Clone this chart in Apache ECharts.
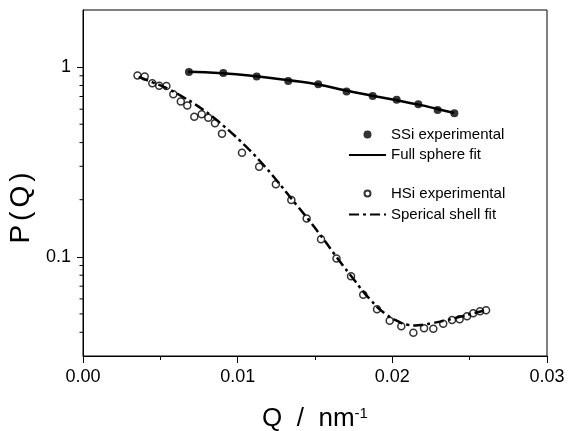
<!DOCTYPE html>
<html>
<head>
<meta charset="utf-8">
<script src="https://cdn.jsdelivr.net/npm/echarts@6/dist/echarts.min.js"></script>
<style>
  html, body { margin: 0; padding: 0; background: #fff; }
  #chart { width: 569px; height: 431px; }
</style>
</head>
<body>
<div id="chart"></div>
<script>
// SSi solid spheres: measured points and full sphere fit
const ssiQ = [0.00685, 0.00907, 0.01123, 0.01327, 0.01521, 0.01704, 0.01873, 0.02028, 0.02168, 0.02293, 0.02401]
const ssiP = [0.941, 0.930, 0.892, 0.846, 0.813, 0.743, 0.705, 0.672, 0.638, 0.595, 0.571]
const ssiFitQ = [0.0068, 0.0090, 0.0112, 0.0133, 0.0152, 0.0170, 0.0187, 0.0203, 0.0217, 0.0229, 0.0240]
const ssiFitP = [0.945, 0.928, 0.894, 0.852, 0.810, 0.752, 0.707, 0.668, 0.634, 0.602, 0.573]

// HSi hollow spheres: measured points and spherical shell fit
const hsiQ = [0.003524, 0.003989, 0.004481, 0.004927, 0.005392, 0.005838, 0.006323, 0.006743, 0.007196,
  0.007674, 0.008101, 0.008534, 0.008987, 0.01028, 0.01139, 0.01247, 0.01347, 0.01446, 0.01539, 0.01639,
  0.01733, 0.01812, 0.01901, 0.01983, 0.02058, 0.02136, 0.02205, 0.02265, 0.02329, 0.02386, 0.02435,
  0.02483, 0.02523, 0.02567, 0.02606]
const hsiP = [0.903, 0.892, 0.823, 0.798, 0.794, 0.720, 0.658, 0.627, 0.548,
  0.564, 0.541, 0.506, 0.446, 0.354, 0.298, 0.241, 0.1995, 0.1593, 0.1239, 0.0979,
  0.0790, 0.0631, 0.0529, 0.0460, 0.0430, 0.0398, 0.0420, 0.0418, 0.0444, 0.0464, 0.0469,
  0.0486, 0.0504, 0.0516, 0.0522]
const hsiFitQ = [0.0036, 0.0045, 0.0055, 0.0065, 0.0075, 0.0085, 0.0095, 0.0105, 0.0115, 0.0125, 0.0135,
  0.0145, 0.0155, 0.0165, 0.0175, 0.0185, 0.0195, 0.0205, 0.0210, 0.0215, 0.0220, 0.0225, 0.0235,
  0.0245, 0.0255, 0.0259]
const hsiFitP = [0.889, 0.831, 0.768, 0.693, 0.617, 0.537, 0.458, 0.384, 0.316, 0.254, 0.2014,
  0.160, 0.1254, 0.0971, 0.0761, 0.0604, 0.0504, 0.0451, 0.0438, 0.0435, 0.0439, 0.0446, 0.0463,
  0.0486, 0.0510, 0.0519]

// axis ticks
const xMin = 0
const yMajorTicks = [0.1, 1]
const yMinorTicks = [0.04, 0.05, 0.06, 0.07, 0.08, 0.09, 0.2, 0.3, 0.4, 0.5, 0.6, 0.7, 0.8, 0.9]

const pairs = (xs, ys) => xs.map((x, i) => [x, ys[i]])
const font = 'Liberation Sans, Arial, sans-serif'
const legendText = { fontSize: 15, color: '#000', fontFamily: font }

const chart = echarts.init(document.getElementById('chart'))
chart.setOption({
  backgroundColor: '#fff',
  animation: false,
  textStyle: { fontFamily: font, color: '#000' },
  grid: {
    left: 83, right: 22, top: 10, bottom: 75,
    outerBoundsMode: 'none',
    containLabel: false,
    show: true, borderColor: '#000', borderWidth: 1
  },
  legend: [{
    orient: 'vertical', left: 348, top: 127, padding: 0,
    itemWidth: 37, itemHeight: 8, itemGap: 5.5,
    selectedMode: false,
    textStyle: legendText,
    data: ['SSi experimental', { name: 'Full sphere fit', itemStyle: { opacity: 0 } }]
  }, {
    orient: 'vertical', left: 348, top: 186, padding: 0,
    itemWidth: 37, itemHeight: 6, itemGap: 6,
    selectedMode: false,
    textStyle: legendText,
    data: ['HSi experimental', { name: 'Sperical shell fit', itemStyle: { opacity: 0 } }]
  }],
  xAxis: {
    type: 'value', min: xMin, max: 0.03, interval: 0.01,
    name: '{a|Q  /  nm}{b|-1}', nameLocation: 'middle', nameGap: 50,
    nameTextStyle: {
      rich: {
        a: { fontSize: 26, fontFamily: font, color: '#000' },
        b: { fontSize: 15, fontFamily: font, color: '#000', verticalAlign: 'top' }
      }
    },
    axisLine: { lineStyle: { color: '#000', width: 1 } },
    axisTick: { length: 7, lineStyle: { color: '#000' } },
    minorTick: { show: true, splitNumber: 2, length: 4, lineStyle: { color: '#000' } },
    axisLabel: { fontSize: 18, color: '#000', margin: 12, formatter: v => v.toFixed(2) },
    splitLine: { show: false }
  },
  yAxis: {
    type: 'log', min: 0.03, max: 2,
    name: '{c|P}{c|(}{c|Q}{c|)}', nameLocation: 'middle', nameGap: 48,
    nameTextStyle: {
      padding: [0, 50, 0, 0],
      rich: { c: { fontSize: 28, fontFamily: font, color: '#000', padding: [0, 2] } }
    },
    axisLine: { show: true, lineStyle: { color: '#000', width: 1 } },
    axisTick: { show: true, length: 6, customValues: yMajorTicks, lineStyle: { color: '#000' } },
    axisLabel: { fontSize: 18, color: '#000', margin: 12, customValues: yMajorTicks },
    splitLine: { show: false }
  },
  series: [{
    name: 'SSi experimental',
    type: 'scatter',
    symbol: 'circle', symbolSize: 8,
    itemStyle: { color: '#000' },
    z: 3,
    data: pairs(ssiQ, ssiP)
  }, {
    name: 'Full sphere fit',
    type: 'line',
    smooth: true, showSymbol: false, symbol: 'none',
    lineStyle: { color: '#000', width: 2.5 },
    itemStyle: { color: '#000' },
    z: 2,
    data: pairs(ssiFitQ, ssiFitP)
  }, {
    name: 'HSi experimental',
    type: 'scatter',
    symbol: 'circle', symbolSize: 7,
    itemStyle: { color: 'rgba(255,255,255,0)', borderColor: '#000', borderWidth: 1.5 },
    z: 2,
    data: pairs(hsiQ, hsiP)
  }, {
    name: 'Sperical shell fit',
    type: 'line',
    smooth: true, showSymbol: false, symbol: 'none',
    lineStyle: { color: '#000', width: 2.5, type: [10, 4, 3, 4] },
    itemStyle: { color: '#000' },
    z: 3,
    data: pairs(hsiFitQ, hsiFitP)
  }, {
    // minor log ticks on the left axis
    type: 'custom',
    silent: true,
    clip: false,
    z: 5,
    data: yMinorTicks.map(v => [xMin, v]),
    renderItem(params, api) {
      const p = api.coord([api.value(0), api.value(1)])
      return {
        type: 'line',
        shape: { x1: p[0] - 3.5, y1: p[1], x2: p[0], y2: p[1] },
        style: { stroke: '#000', lineWidth: 1 }
      }
    }
  }]
})
</script>
</body>
</html>
